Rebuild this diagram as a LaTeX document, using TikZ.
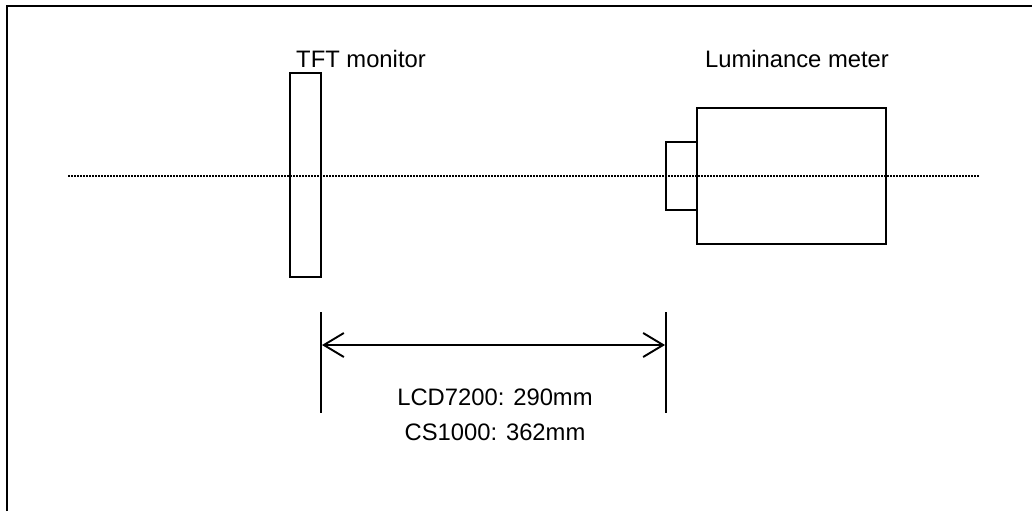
\documentclass[tikz,border=0pt]{standalone}
\usepackage{fontspec}
\setmainfont{Liberation Sans}
\usetikzlibrary{arrows.meta}
\tikzset{barb/.tip={Straight Barb[length=20pt,width=24pt,line width=1.9pt]}}
\begin{document}
\begin{tikzpicture}[x=1pt,y=-1pt,
  box/.style={draw=black,line width=1.9pt,inner sep=0pt,minimum width=#1},
  lbl/.style={font=\fontsize{23.8}{28}\selectfont,inner sep=0pt},
  frame/.style={line width=2.2pt,black},
  axis/.style={line width=1.3pt,dash pattern=on 1.5pt off 1.5pt},
  dim/.style={line width=1.9pt}]
\useasboundingbox (0,0) rectangle (1032,511);
% frame (cut off at right and bottom)
\draw[frame] (7,511) -- (7,6) -- (1032,6);
% TFT monitor
\node[box=31pt,minimum height=204pt] (tft) at (305.5,175) {};
\node[lbl] (tftl) at (361,59) {TFT monitor};
% luminance meter
\node[box=189pt,minimum height=136pt] (meter) at (791.5,175.7) {};
\node[box=31pt,minimum height=68pt] (lens) at (681.5,175.9) {};
\node[lbl] (meterl) at (797,59) {Luminance meter};
% optical axis
\coordinate (axL) at (68,176);
\coordinate (axR) at (980,176);
\draw[axis] (axL) -- (axR);
% dimension
\coordinate (d1t) at (321,312);
\coordinate (d1b) at (321,413);
\coordinate (d2t) at (666,312);
\coordinate (d2b) at (666,413);
\draw[dim] (d1t) -- (d1b);
\draw[dim] (d2t) -- (d2b);
\coordinate (a1) at (322,345);
\coordinate (a2) at (665,345);
\draw[dim,{barb}-{barb}] (a1) -- (a2);
\node[lbl] (lcd) at (495,397) {LCD7200: 290mm};
\node[lbl] (cs) at (495,432) {CS1000: 362mm};
\end{tikzpicture}
\end{document}
